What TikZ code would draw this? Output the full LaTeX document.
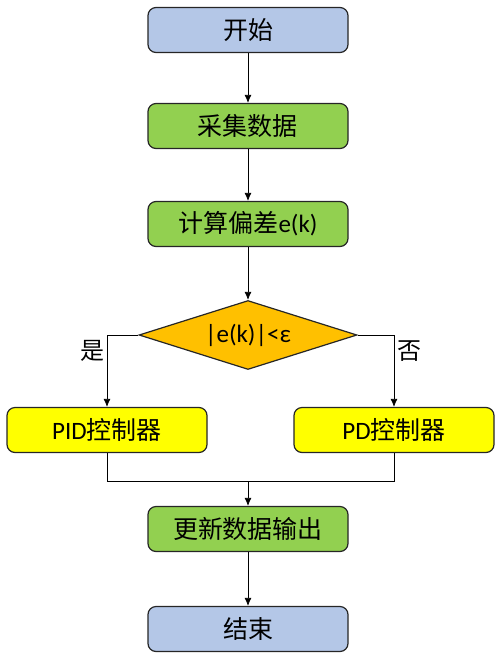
\documentclass[tikz,border=0pt]{standalone}
\usepackage{fontspec}
\setmainfont{Carlito}
\newfontfamily\cjk{Noto Sans CJK SC}
\usepackage{xcolor}
\usetikzlibrary{arrows.meta}
\usetikzlibrary{shapes.geometric}
\definecolor{startblue}{HTML}{B4C7E7}
\definecolor{stepgreen}{HTML}{92D050}
\definecolor{testorange}{HTML}{FFC000}
\definecolor{ctrlyellow}{HTML}{FFFF00}

\begin{document}
\begin{tikzpicture}[x=0.5pt, y=-0.5pt,
		box/.style={draw=black!85, line width=0.6pt, rounded corners=4pt,
			minimum width=100pt, minimum height=22.5pt, inner sep=0pt,
			font=\fontsize{12.5}{14}\selectfont},
		test/.style={draw=black!85, line width=0.6pt, diamond, aspect=3.2,
			minimum width=109pt, minimum height=34.5pt, inner sep=0pt,
			fill=testorange, font=\fontsize{12.5}{14}\selectfont},
		>={Latex[length=4pt, width=3.5pt]}]
			\useasboundingbox (0,0) rectangle (501,655);
			% Main column
			\node[box, fill=startblue] (start) at (248,30) {\cjk 开始};
			\node[box, fill=stepgreen] (acq) at (248,126) {\cjk 采集数据};
			\node[box, fill=stepgreen] (err) at (248,224) {{\cjk 计算偏差}e(k)};
			\node[test] (dec) at (248,335) {|e(k)|<ε};

			% Two branches
			\node[box, fill=ctrlyellow] (pid) at (107,430) {PID{\cjk 控制器}};
			\node[box, fill=ctrlyellow] (pd) at (394,430) {PD{\cjk 控制器}};
			\node[box, fill=stepgreen] (upd) at (248,529) {\cjk 更新数据输出};
			\node[box, fill=startblue] (stop) at (248,629) {\cjk 结束};
			\coordinate (merge) at (248,481);

			% Connectors
			\draw[->] (start) -- (acq);
			\draw[->] (acq) -- (err);
			\draw[->] (err) -- (dec);
			\draw[->] (dec.west) -| (pid.north);
			\draw[->] (dec.east) -| (pd.north);
			\draw (pid.south) |- (merge);
			\draw (pd.south) |- (merge);
			\draw[->] (merge) -- (upd);
			\draw[->] (upd) -- (stop);

			% Branch labels
			\node[font=\fontsize{12}{14}\selectfont\cjk] (yes) at (92,351) {是};
			\node[font=\fontsize{12}{14}\selectfont\cjk] (no) at (409,351) {否};
		\end{tikzpicture}
\end{document}
